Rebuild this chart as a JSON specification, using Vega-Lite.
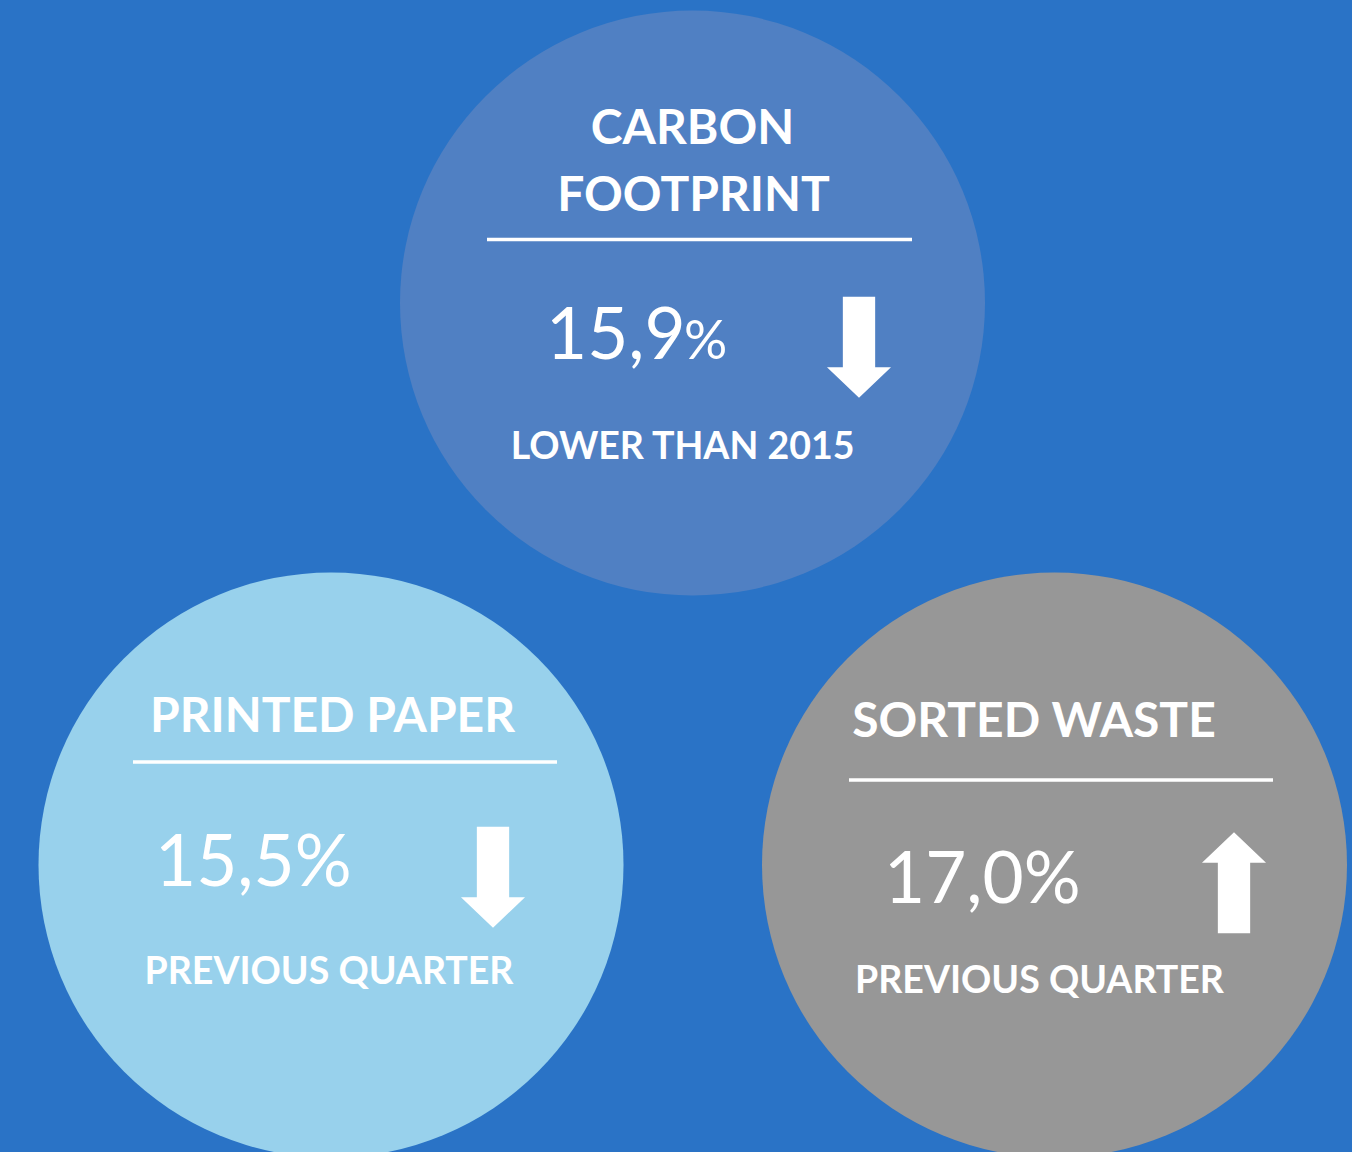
{
  "$schema": "https://vega.github.io/schema/vega-lite/v6.json",
  "width": 1352,
  "height": 1152,
  "autosize": {"type": "none"},
  "padding": 0,
  "background": "#2A73C6",
  "config": {"view": {"stroke": null}},
  "datasets": {
    "circles": [
      {"panel": "Carbon footprint", "x": 692.5, "y": 303},
      {"panel": "Printed paper", "x": 331, "y": 865},
      {"panel": "Sorted waste", "x": 1054.5, "y": 865}
    ],
    "rules": [
      {"panel": "Carbon footprint", "x": 487, "x2": 912, "y": 239.5},
      {"panel": "Printed paper", "x": 133, "x2": 557, "y": 762},
      {"panel": "Sorted waste", "x": 849, "x2": 1273, "y": 780}
    ],
    "arrows": [
      {"panel": "Carbon footprint", "direction": "down", "angle": 0, "x": 859, "y": 347.2},
      {"panel": "Printed paper", "direction": "down", "angle": 0, "x": 493, "y": 877.2},
      {"panel": "Sorted waste", "direction": "up", "angle": 180, "x": 1234, "y": 882.8}
    ],
    "texts": [
      {"kind": "title", "label": "CARBON", "x": 692.5, "y": 144},
      {"kind": "title", "label": "FOOTPRINT", "x": 693.5, "y": 211},
      {"kind": "title", "label": "PRINTED PAPER", "x": 332.5, "y": 732},
      {"kind": "title", "label": "SORTED WASTE", "x": 1034, "y": 737},
      {"kind": "value", "label": "15,9", "x": 546, "y": 359},
      {"kind": "pct", "label": "%", "x": 684, "y": 359},
      {"kind": "value", "label": "15,5%", "x": 155, "y": 886},
      {"kind": "value", "label": "17,0%", "x": 884, "y": 903},
      {"kind": "sub", "label": "LOWER THAN 2015", "x": 682.5, "y": 459},
      {"kind": "sub", "label": "PREVIOUS QUARTER", "x": 329, "y": 984},
      {"kind": "sub", "label": "PREVIOUS QUARTER", "x": 1039.5, "y": 993}
    ]
  },
  "layer": [
    {
      "data": {"name": "circles"},
      "mark": {"type": "point", "shape": "circle", "filled": true, "opacity": 1, "size": 342225},
      "encoding": {
        "x": {"field": "x", "type": "quantitative", "scale": {"domain": [0, 1352], "nice": false, "zero": false}, "axis": null},
        "y": {"field": "y", "type": "quantitative", "scale": {"domain": [0, 1152], "nice": false, "zero": false, "reverse": true}, "axis": null},
        "color": {"field": "panel", "type": "nominal", "scale": {"domain": ["Carbon footprint", "Printed paper", "Sorted waste"], "range": ["#5080C3", "#98D1EC", "#979797"]}, "legend": null}
      }
    },
    {
      "data": {"name": "rules"},
      "mark": {"type": "rule", "color": "white", "strokeWidth": 3.5},
      "encoding": {
        "x": {"field": "x", "type": "quantitative", "scale": {"domain": [0, 1352], "nice": false, "zero": false}, "axis": null},
        "x2": {"field": "x2"},
        "y": {"field": "y", "type": "quantitative", "scale": {"domain": [0, 1152], "nice": false, "zero": false, "reverse": true}, "axis": null}
      }
    },
    {
      "data": {"name": "arrows"},
      "mark": {"type": "point", "filled": true, "opacity": 1, "color": "white", "size": 10201,
        "shape": "M-0.32,-1L0.32,-1L0.32,0.396L0.634,0.396L0,1L-0.634,0.396L-0.32,0.396Z"},
      "encoding": {
        "x": {"field": "x", "type": "quantitative", "scale": {"domain": [0, 1352], "nice": false, "zero": false}, "axis": null},
        "y": {"field": "y", "type": "quantitative", "scale": {"domain": [0, 1152], "nice": false, "zero": false, "reverse": true}, "axis": null},
        "angle": {"field": "angle", "type": "quantitative", "scale": null}
      }
    },
    {
      "data": {"name": "texts"},
      "transform": [{"filter": "datum.kind === 'title'"}],
      "mark": {"type": "text", "font": "Lato", "fontWeight": "bold", "fontSize": 48, "align": "center", "baseline": "alphabetic", "color": "white"},
      "encoding": {
        "x": {"field": "x", "type": "quantitative", "scale": {"domain": [0, 1352], "nice": false, "zero": false}, "axis": null},
        "y": {"field": "y", "type": "quantitative", "scale": {"domain": [0, 1152], "nice": false, "zero": false, "reverse": true}, "axis": null},
        "text": {"field": "label"}
      }
    },
    {
      "data": {"name": "texts"},
      "transform": [{"filter": "datum.kind === 'value'"}],
      "mark": {"type": "text", "font": "Lato", "fontWeight": "normal", "fontSize": 71, "align": "left", "baseline": "alphabetic", "color": "white"},
      "encoding": {
        "x": {"field": "x", "type": "quantitative", "scale": {"domain": [0, 1352], "nice": false, "zero": false}, "axis": null},
        "y": {"field": "y", "type": "quantitative", "scale": {"domain": [0, 1152], "nice": false, "zero": false, "reverse": true}, "axis": null},
        "text": {"field": "label"}
      }
    },
    {
      "data": {"name": "texts"},
      "transform": [{"filter": "datum.kind === 'pct'"}],
      "mark": {"type": "text", "font": "Lato", "fontWeight": "normal", "fontSize": 54, "align": "left", "baseline": "alphabetic", "color": "white"},
      "encoding": {
        "x": {"field": "x", "type": "quantitative", "scale": {"domain": [0, 1352], "nice": false, "zero": false}, "axis": null},
        "y": {"field": "y", "type": "quantitative", "scale": {"domain": [0, 1152], "nice": false, "zero": false, "reverse": true}, "axis": null},
        "text": {"field": "label"}
      }
    },
    {
      "data": {"name": "texts"},
      "transform": [{"filter": "datum.kind === 'sub'"}],
      "mark": {"type": "text", "font": "Lato", "fontWeight": "bold", "fontSize": 37.5, "align": "center", "baseline": "alphabetic", "color": "white"},
      "encoding": {
        "x": {"field": "x", "type": "quantitative", "scale": {"domain": [0, 1352], "nice": false, "zero": false}, "axis": null},
        "y": {"field": "y", "type": "quantitative", "scale": {"domain": [0, 1152], "nice": false, "zero": false, "reverse": true}, "axis": null},
        "text": {"field": "label"}
      }
    }
  ]
}
